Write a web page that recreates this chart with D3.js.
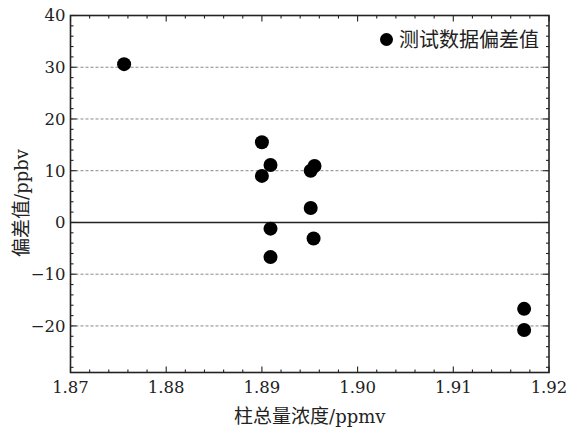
<!DOCTYPE html>
<html lang="zh">
<head>
    <meta charset="UTF-8">
    <title>偏差值</title>
    <script src="https://d3js.org/d3.v7.min.js"></script>
    <style>
        body { margin: 0; background: #fff; }
        .tick-label { font-family: "DejaVu Serif", serif; font-size: 16.5px; fill: #222; }
        .grid-line { stroke: #888; stroke-width: 1; stroke-dasharray: 3, 2; }
        .frame { fill: none; stroke: #222; stroke-width: 1.6px; }
        .axis-title { font-size: 19px; fill: #222; }
    </style>
</head>
<body>
<div id="chart"></div>
<script>
    // data
    const colTotal = [1.8756, 1.8900, 1.8909, 1.8900, 1.8955, 1.8951, 1.8951, 1.8909, 1.8954, 1.8909, 1.9174, 1.9174];
    const deviation = [30.6, 15.5, 11.1, 9.0, 10.9, 10.0, 2.8, -1.2, -3.1, -6.7, -16.7, -20.8];
    const xTicks = [1.87, 1.88, 1.89, 1.90, 1.91, 1.92];
    const yTicks = [40, 30, 20, 10, 0, -10, -20];
    const gridVals = [30, 20, 10, -10, -20];
    const seriesName = "测试数据偏差值";

    const W = 566, H = 429;
    const margin = { top: 15.5, right: 17, bottom: 56.5, left: 70.5 };
    const width = W - margin.left - margin.right,
          height = H - margin.top - margin.bottom;

    const svg = d3.select("#chart").append("svg")
        .attr("width", W).attr("height", H);
    const g = svg.append("g")
        .attr("transform", `translate(${margin.left},${margin.top})`);

    const x = d3.scaleLinear().domain([1.87, 1.92]).range([0, width]);
    const y = d3.scaleLinear().domain([-29, 40]).range([height, 0]);

    // dashed grid
    g.selectAll(".grid-line")
        .data(gridVals)
        .enter().append("line")
        .attr("class", "grid-line")
        .attr("x1", 0).attr("x2", width)
        .attr("y1", d => y(d)).attr("y2", d => y(d));

    // zero line
    g.append("line")
        .attr("x1", 0).attr("x2", width)
        .attr("y1", y(0)).attr("y2", y(0))
        .style("stroke", "#222").style("stroke-width", 1.6);

    // ticks, inward on all four sides
    const xMinor = d3.range(1.87, 1.9201, 0.002);
    const yMinor = d3.range(-28, 40.01, 2);
    const isMajorX = v => Math.abs(v * 100 - Math.round(v * 100)) < 1e-6;
    const isMajorY = v => Math.abs(v % 10) < 1e-6;
    const tk = g.append("g").style("stroke", "#222").style("stroke-width", 1.1);
    xMinor.forEach(v => {
        const len = isMajorX(v) ? 6 : 3;
        tk.append("line").attr("x1", x(v)).attr("x2", x(v)).attr("y1", height).attr("y2", height - len);
        tk.append("line").attr("x1", x(v)).attr("x2", x(v)).attr("y1", 0).attr("y2", len);
    });
    yMinor.forEach(v => {
        const len = isMajorY(v) ? 6 : 3;
        tk.append("line").attr("x1", 0).attr("x2", len).attr("y1", y(v)).attr("y2", y(v));
        tk.append("line").attr("x1", width).attr("x2", width - len).attr("y1", y(v)).attr("y2", y(v));
    });

    // frame
    g.append("rect").attr("class", "frame")
        .attr("x", 0).attr("y", 0).attr("width", width).attr("height", height);

    // tick labels
    g.selectAll(".xl").data(xTicks).enter().append("text")
        .attr("class", "tick-label")
        .attr("x", d => x(d)).attr("y", height + 20)
        .attr("text-anchor", "middle")
        .text(d => d.toFixed(2));
    g.selectAll(".yl").data(yTicks).enter().append("text")
        .attr("class", "tick-label")
        .attr("x", -5).attr("y", d => y(d))
        .attr("dy", "0.36em")
        .attr("text-anchor", "end")
        .text(d => d < 0 ? "\u2212" + Math.abs(d) : d);

    // points
    const pts = colTotal.map((v, i) => ({ x: v, y: deviation[i] }));
    g.selectAll(".pt").data(pts).enter().append("circle")
        .attr("cx", d => x(d.x)).attr("cy", d => y(d.y))
        .attr("r", 7).style("fill", "#000");

    // legend
    g.append("circle").attr("cx", 386.5 - margin.left).attr("cy", 39.5 - margin.top)
        .attr("r", 6.5).style("fill", "#000");
    g.append("text").attr("x", 399 - margin.left).attr("y", 39.5 - margin.top)
        .attr("dy", "0.36em")
        .style("font-family", "'Noto Sans CJK SC', sans-serif")
        .style("font-size", "20px").style("fill", "#222")
        .text(seriesName);

    // axis titles
    const xt = svg.append("text").attr("class", "axis-title")
        .attr("x", margin.left + width / 2).attr("y", 416)
        .attr("dy", "0.36em").attr("text-anchor", "middle");
    xt.append("tspan").style("font-family", "'Noto Sans CJK SC', sans-serif").text("柱总量浓度");
    xt.append("tspan").style("font-family", "'DejaVu Serif', serif").style("font-size", "18px").text("/ppmv");

    const yt = svg.append("text").attr("class", "axis-title")
        .attr("transform", "translate(21,203) rotate(-90)")
        .attr("dy", "0.36em").attr("text-anchor", "middle");
    yt.append("tspan").style("font-family", "'Noto Sans CJK SC', sans-serif").text("偏差值");
    yt.append("tspan").style("font-family", "'DejaVu Serif', serif").style("font-size", "18px").text("/ppbv");
</script>
</body>
</html>
